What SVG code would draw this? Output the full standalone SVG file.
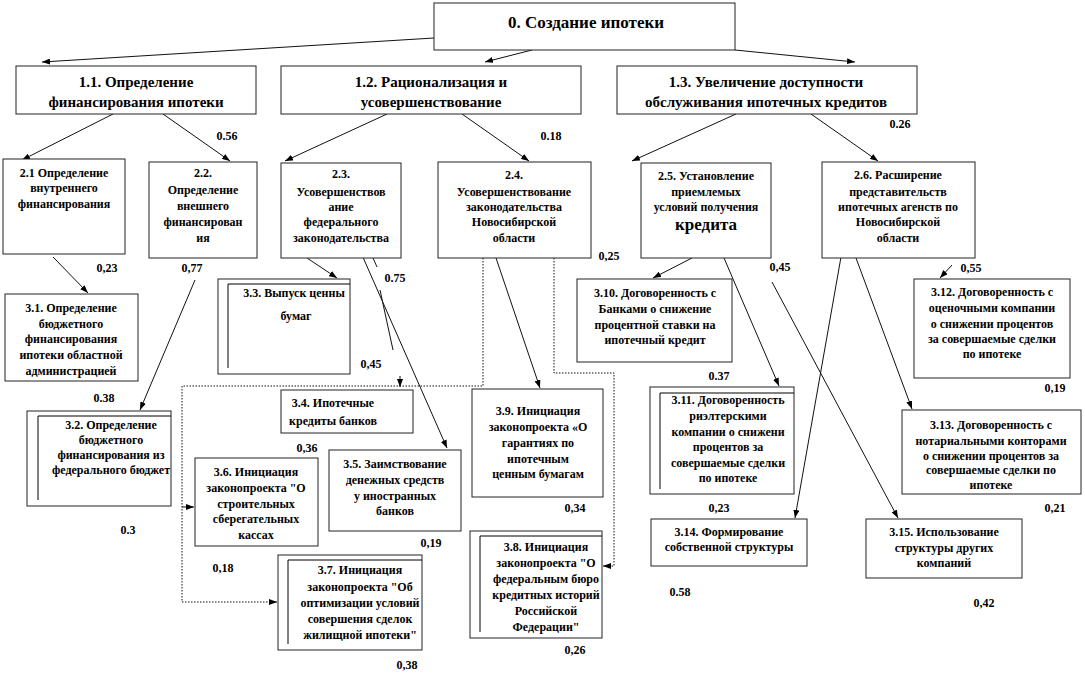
<svg xmlns="http://www.w3.org/2000/svg" width="1085" height="677" viewBox="0 0 1085 677" font-family="'Liberation Serif', 'DejaVu Serif', serif" font-weight="bold">
<style>
.box{fill:#fff;stroke:#222;stroke-width:1}
.inner{fill:none;stroke:#000;stroke-width:1}
text{font-family:'Liberation Serif','DejaVu Serif',serif;font-weight:bold;fill:#000;text-anchor:middle}
.s{font-size:12px}
.m{font-size:15px}
.l{font-size:17px}
.lbl{font-size:12px}
.c{fill:none;stroke:#111;stroke-width:1;marker-end:url(#ah)}
.d{fill:none;stroke:#111;stroke-width:1;stroke-dasharray:1.5,1.5}
</style>
<defs>
<marker id="ah" viewBox="0 0 8 6" refX="8" refY="3" markerWidth="8" markerHeight="6" markerUnits="userSpaceOnUse" orient="auto">
<path d="M0,0 L8,3 L0,6 Z" fill="#000"/>
</marker>
</defs>

<g id="connectors">
<path class="c" d="M434,38 L42,62"/>
<path class="c" d="M532,50 L485,62"/>
<path class="c" d="M735,50 L855,62"/>
<path class="c" d="M113,114 L22,160"/>
<path class="c" d="M163,114 L230,161"/>
<path class="c" d="M387,114 L285,161"/>
<path class="c" d="M462,114 L529,161"/>
<path class="c" d="M736,114 L632,161"/>
<path class="c" d="M811,114 L878,161"/>
<path class="c" d="M53,257 L88,293"/>
<path class="c" d="M195,280 L140,410"/>
<path class="c" d="M307,258 L337,278"/>
<path class="c" d="M373,258 L377,267 M380,290 L393,350 M400,376 L400,387"/>
<path class="c" d="M362,255 L447,448"/>
<path class="d" d="M483,258 L483,386 L182,386 L182,602 L270,602"/>
<path class="c" d="M270,602 L277,602"/>
<path class="c" d="M182,507 L194,507"/>
<path class="c" d="M495,255 L540,388"/>
<path class="d" d="M554,258 L554,373 L614,373 L614,566 L608,566"/>
<path class="c" d="M608,566 L603,566"/>
<path class="c" d="M692,258 L653,278"/>
<path class="c" d="M724,258 L779,386"/>
<path class="c" d="M772,282 L898,518"/>
<path class="c" d="M841,257 L795,518"/>
<path class="c" d="M856,258 L912,409"/>
<path class="c" d="M952,265 L940,278"/>
</g>

<g id="n0"><rect class="box" x="434" y="3" width="301" height="47"/><text class="l" x="586" y="28">0. Создание ипотеки</text></g>

<g id="n1_1"><rect class="box" x="16" y="66" width="240" height="48"/><text class="m" x="136" y="87">1.1. Определение</text><text class="m" x="136" y="107">финансирования  ипотеки</text></g>
<g id="n1_2"><rect class="box" x="281" y="66" width="300" height="48"/><text class="m" x="431" y="87">1.2. Рационализация  и</text><text class="m" x="431" y="107">усовершенствование</text></g>
<g id="n1_3"><rect class="box" x="617" y="66" width="300" height="48"/><text class="m" x="766" y="87">1.3. Увеличение  доступности</text><text class="m" x="766" y="107">обслуживания  ипотечных  кредитов</text></g>

<g id="n2_1"><rect class="box" x="3" y="159" width="122" height="95"/><text class="s" x="64" y="177">2.1 Определение</text><text class="s" x="64" y="192">внутреннего</text><text class="s" x="64" y="208">финансирования</text></g>
<g id="n2_2"><rect class="box" x="149" y="162" width="108" height="96"/><text class="s" x="203" y="177">2.2.</text><text class="s" x="203" y="194">Определение</text><text class="s" x="203" y="210">внешнего</text><text class="s" x="203" y="226">финансирован</text><text class="s" x="203" y="242">ия</text></g>
<g id="n2_3"><rect class="box" x="281" y="163" width="120" height="95"/><text class="s" x="341" y="178">2.3.</text><text class="s" x="341" y="196">Усовершенствов</text><text class="s" x="341" y="211">ание</text><text class="s" x="341" y="226">федерального</text><text class="s" x="341" y="242">законодательства</text></g>
<g id="n2_4"><rect class="box" x="438" y="162" width="153" height="96"/><text class="s" x="514" y="179">2.4.</text><text class="s" x="514" y="196">Усовершенствование</text><text class="s" x="514" y="211">законодательства</text><text class="s" x="514" y="226">Новосибирской</text><text class="s" x="514" y="242">области</text></g>
<g id="n2_5"><rect class="box" x="641" y="163" width="130" height="95"/><text class="s" x="706" y="180">2.5. Установление</text><text class="s" x="706" y="196">приемлемых</text><text class="s" x="706" y="211">условий получения</text><text class="l" x="706" y="230">кредита</text></g>
<g id="n2_6"><rect class="box" x="822" y="162" width="153" height="96"/><text class="s" x="898" y="179">2.6. Расширение</text><text class="s" x="898" y="196">представительств</text><text class="s" x="898" y="211">ипотечных  агенств по</text><text class="s" x="898" y="226">Новосибирской</text><text class="s" x="898" y="242">области</text></g>

<g id="n3_1"><rect class="box" x="5" y="294" width="133" height="87"/><text class="s" x="71" y="312">3.1. Определение</text><text class="s" x="71" y="328">бюджетного</text><text class="s" x="71" y="343">финансирования</text><text class="s" x="71" y="359">ипотеки областной</text><text class="s" x="71" y="375">администрацией</text></g>
<g id="n3_2"><rect class="box" x="27" y="411" width="144" height="95"/><path class="inner" d="M171,416 H38 V500"/><text class="s" x="111" y="429">3.2. Определение</text><text class="s" x="111" y="444">бюджетного</text><text class="s" x="111" y="459">финансирования из</text><text class="s" x="111" y="474">федерального бюджет</text></g>
<g id="n3_3"><rect class="box" x="218" y="279" width="132" height="95"/><path class="inner" d="M350,284 H228 V368"/><text class="s" x="294" y="297">3.3. Выпуск ценны</text><text class="s" x="296" y="320">бумаг</text></g>
<g id="n3_4"><rect class="box" x="281" y="390" width="132" height="43"/><text class="s" x="333" y="407">3.4. Ипотечные</text><text class="s" x="333" y="425">кредиты банков</text></g>
<g id="n3_5"><rect class="box" x="329" y="450" width="132" height="81"/><text class="s" x="395" y="468">3.5. Заимствование</text><text class="s" x="395" y="484">денежных  средств</text><text class="s" x="395" y="500">у иностранных</text><text class="s" x="395" y="515">банков</text></g>
<g id="n3_6"><rect class="box" x="195" y="458" width="123" height="88"/><text class="s" x="256" y="476">3.6. Инициация</text><text class="s" x="256" y="492">законопроекта "О</text><text class="s" x="256" y="508">строительных</text><text class="s" x="256" y="523">сберегательных</text><text class="s" x="256" y="539">кассах</text></g>
<g id="n3_7"><rect class="box" x="278" y="555" width="144" height="95"/><path class="inner" d="M422,560 H288 V644"/><text class="s" x="360" y="574">3.7. Инициация</text><text class="s" x="360" y="591">законопроекта "Об</text><text class="s" x="360" y="607">оптимизации условий</text><text class="s" x="360" y="623">совершения сделок</text><text class="s" x="360" y="639">жилищной ипотеки"</text></g>
<g id="n3_8"><rect class="box" x="470" y="531" width="132" height="107"/><path class="inner" d="M602,536 H480 V632"/><text class="s" x="546" y="551">3.8. Инициация</text><text class="s" x="546" y="567">законопроекта "О</text><text class="s" x="546" y="583">федеральным бюро</text><text class="s" x="546" y="599">кредитных  историй</text><text class="s" x="546" y="615">Российской</text><text class="s" x="546" y="631">Федерации"</text></g>
<g id="n3_9"><rect class="box" x="472" y="389" width="131" height="108"/><text class="s" x="538" y="415">3.9. Инициация</text><text class="s" x="538" y="431">законопроекта «О</text><text class="s" x="538" y="447">гарантиях  по</text><text class="s" x="538" y="463">ипотечным</text><text class="s" x="538" y="478">ценным бумагам</text></g>
<g id="n3_10"><rect class="box" x="577" y="279" width="155" height="83"/><text class="s" x="655" y="297">3.10. Договоренность с</text><text class="s" x="655" y="313">Банками о снижение</text><text class="s" x="655" y="329">процентной ставки на</text><text class="s" x="655" y="344">ипотечный кредит</text></g>
<g id="n3_11"><rect class="box" x="650" y="387" width="144" height="107"/><path class="inner" d="M794,393 H660 V489"/><text class="s" x="728" y="404">3.11. Договоренность</text><text class="s" x="728" y="420">риэлтерскими</text><text class="s" x="728" y="436">компании о снижени</text><text class="s" x="728" y="451">процентов за</text><text class="s" x="728" y="467">совершаемые сделки</text><text class="s" x="728" y="482">по ипотеке</text></g>
<g id="n3_12"><rect class="box" x="914" y="279" width="156" height="99"/><text class="s" x="992" y="296">3.12. Договоренность с</text><text class="s" x="992" y="312">оценочными компании</text><text class="s" x="992" y="328">о снижении процентов</text><text class="s" x="992" y="343">за совершаемые сделки</text><text class="s" x="992" y="358">по ипотеке</text></g>
<g id="n3_13"><rect class="box" x="902" y="410" width="179" height="84"/><text class="s" x="991" y="429">3.13.  Договоренность с</text><text class="s" x="991" y="445">нотариальными конторами</text><text class="s" x="991" y="460">о снижении процентов за</text><text class="s" x="991" y="474">совершаемые сделки по</text><text class="s" x="991" y="489">ипотеке</text></g>
<g id="n3_14"><rect class="box" x="651" y="519" width="156" height="47"/><text class="s" x="729" y="536">3.14. Формирование</text><text class="s" x="729" y="551">собственной структуры</text></g>
<g id="n3_15"><rect class="box" x="866" y="519" width="156" height="59"/><text class="s" x="944" y="536">3.15. Использование</text><text class="s" x="944" y="552">структуры других</text><text class="s" x="944" y="567">компаний</text></g>

<g id="labels">
<text class="lbl" x="227" y="140">0.56</text>
<text class="lbl" x="551" y="140">0.18</text>
<text class="lbl" x="900" y="128">0.26</text>
<text class="lbl" x="107" y="272">0,23</text>
<text class="lbl" x="192" y="272">0,77</text>
<text class="lbl" x="395" y="282">0.75</text>
<text class="lbl" x="371" y="368">0,45</text>
<text class="lbl" x="609" y="260">0,25</text>
<text class="lbl" x="780" y="271">0,45</text>
<text class="lbl" x="971" y="272">0,55</text>
<text class="lbl" x="104" y="402">0.38</text>
<text class="lbl" x="719" y="380">0.37</text>
<text class="lbl" x="1055" y="392">0,19</text>
<text class="lbl" x="307" y="452">0,36</text>
<text class="lbl" x="575" y="512">0,34</text>
<text class="lbl" x="719" y="512">0,23</text>
<text class="lbl" x="1055" y="512">0,21</text>
<text class="lbl" x="128" y="534">0.3</text>
<text class="lbl" x="431" y="547">0,19</text>
<text class="lbl" x="223" y="572">0,18</text>
<text class="lbl" x="680" y="596">0.58</text>
<text class="lbl" x="984" y="607">0,42</text>
<text class="lbl" x="575" y="654">0,26</text>
<text class="lbl" x="407" y="669">0,38</text>
</g>
</svg>
